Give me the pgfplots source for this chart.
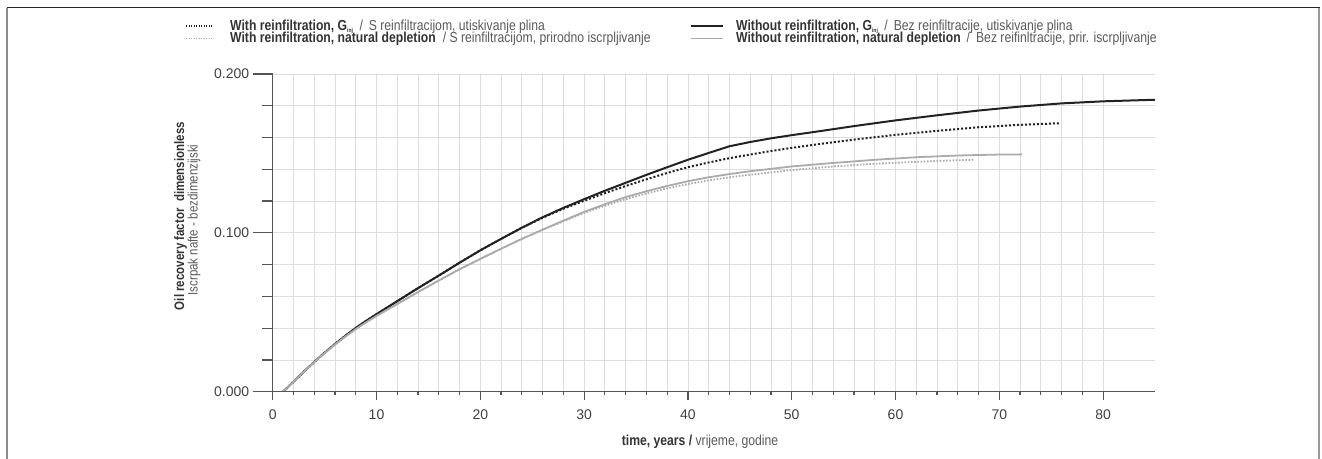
\documentclass[border=0pt]{standalone}
\usepackage{fontspec}
\setmainfont{Liberation Sans}
\newfontfamily\narrow{Liberation Sans}[FakeStretch=0.84]
\usepackage{pgfplots}
\pgfplotsset{compat=1.18}
\definecolor{gridc}{HTML}{DDDDDD}
\definecolor{axc}{HTML}{555555}
\definecolor{blk}{HTML}{222222}
\definecolor{gry}{HTML}{ABABAB}
\definecolor{txtb}{HTML}{333333}
\definecolor{txtr}{HTML}{5A5A5A}

\pgfplotstableread{
x y
1 0
2 0.0063
3 0.0126
4 0.0187
5 0.0245
6 0.0300
7 0.0352
8 0.0401
9 0.0446
10 0.0488
11 0.0529
12 0.0570
14 0.0652
16 0.0731
18 0.0812
20 0.0890
22 0.0962
24 0.1032
26 0.1098
28 0.1157
30 0.1212
32 0.1265
34 0.1315
36 0.1365
38 0.1413
40 0.1460
42 0.1503
44 0.1545
46 0.1572
48 0.1595
50 0.1615
53 0.1643
56 0.1672
60 0.1708
64 0.1740
68 0.1770
72 0.1795
76 0.1815
80 0.1828
85 0.1838
}\woGinj

\pgfplotstableread{
x y
1 0
2 0.0063
3 0.0126
4 0.0187
5 0.0245
6 0.0300
7 0.0352
8 0.0401
9 0.0446
10 0.0488
11 0.0529
12 0.0570
14 0.0652
16 0.0731
18 0.0812
20 0.0890
22 0.0962
24 0.1032
26 0.1095
28 0.1152
30 0.1202
32 0.1250
34 0.1295
36 0.1337
38 0.1377
40 0.1413
42 0.1443
44 0.1470
46 0.1493
48 0.1515
50 0.1535
53 0.1562
56 0.1587
60 0.1617
64 0.1642
68 0.1665
72 0.1680
75.8 0.1690
}\wGinj

\pgfplotstableread{
x y
1 0
2 0.0063
3 0.0126
4 0.0186
5 0.0243
6 0.0297
7 0.0347
8 0.0394
9 0.0437
10 0.0477
11 0.0515
12 0.0552
14 0.0627
16 0.0700
18 0.0771
20 0.0836
22 0.0900
24 0.0962
26 0.1020
28 0.1077
30 0.1132
32 0.1180
34 0.1225
36 0.1262
38 0.1295
40 0.1325
42 0.1350
44 0.1370
46 0.1388
48 0.1403
50 0.1418
54 0.1440
58 0.1460
62 0.1476
66 0.1487
70 0.1493
72.2 0.1494
}\woNat

\pgfplotstableread{
x y
1 0
2 0.0063
3 0.0126
4 0.0186
5 0.0243
6 0.0297
7 0.0347
8 0.0394
9 0.0437
10 0.0477
11 0.0515
12 0.0552
14 0.0627
16 0.0700
18 0.0771
20 0.0836
22 0.0900
24 0.0962
26 0.1020
28 0.1072
30 0.1125
32 0.1170
34 0.1212
36 0.1248
38 0.1280
40 0.1307
42 0.1330
44 0.1350
46 0.1366
48 0.1380
50 0.1395
54 0.1418
58 0.1435
62 0.1447
65 0.1455
67.5 0.1460
}\wNat

\begin{document}
\begin{tikzpicture}[x=1pt,y=1pt]
\useasboundingbox (0pt,0pt) rectangle (1322pt,-458pt);
% outer frame
\draw[line width=1.5pt, color=black!85] (6.5pt,-7.5pt) -- (1319.5pt,-7.5pt);
\draw[line width=2pt, color=black!45] (7pt,-7.5pt) -- (7pt,-460pt);
\draw[line width=1.5pt, color=black!40] (1319pt,-7.5pt) -- (1319pt,-460pt);

% main axis: data, grid, y ticks
\begin{axis}[
  at={(272.7pt,-391.7pt)}, anchor=south west,
  scale only axis, width=882.3pt, height=317.7pt,
  xmin=0, xmax=85, ymin=0, ymax=0.2,
  axis lines=left,
  axis line style={-, draw=axc, line width=1.2pt},
  xtick={0,10,...,80}, minor x tick num=4, xticklabels={},
  xtick style={draw=none},
  ytick={0,0.1,0.2}, minor y tick num=4,
  tick align=outside,
  major tick length=20pt, minor tick length=11pt,
  ytick style={draw=axc, line width=1.2pt},
  grid=both,
  major grid style={draw=gridc, line width=0.8pt},
  minor grid style={draw=gridc, line width=0.8pt},
  /pgf/number format/assume math mode=true,
  yticklabel style={/pgf/number format/fixed, /pgf/number format/fixed zerofill, /pgf/number format/precision=3, font=\fontsize{14}{14}\selectfont, text=black!75},
]
\addplot[blk, line width=2pt] table[x=x,y=y] {\woGinj};
\addplot[blk, line width=2pt, dash pattern=on 2pt off 2pt] table[x=x,y=y] {\wGinj};
\addplot[gry, line width=1.8pt, dash pattern=on 1.6pt off 1.6pt] table[x=x,y=y] {\wNat};
\addplot[gry, line width=1.8pt] table[x=x,y=y] {\woNat};
\end{axis}

% overlay axis: x ticks and labels
\begin{axis}[
  at={(272.7pt,-391.7pt)}, anchor=south west,
  scale only axis, width=882.3pt, height=317.7pt,
  xmin=0, xmax=85, ymin=0, ymax=0.2,
  axis x line=bottom, axis y line=none,
  axis line style={-, draw=axc, line width=1.2pt},
  xtick={0,10,...,80}, minor x tick num=4,
  tick align=outside,
  major tick length=8pt, minor tick length=3.5pt,
  xtick style={draw=axc, line width=1.2pt},
  /pgf/number format/assume math mode=true,
  xticklabel style={font=\fontsize{14}{14}\selectfont, text=black!75, yshift=-6pt},
]
\end{axis}

% axis titles
\node[anchor=base, inner sep=0, font=\narrow\fontsize{14.5}{15}\selectfont] at (700pt,-445pt)
  {\textcolor{txtb}{\bfseries time, years\ /}\textcolor{txtr}{\ vrijeme, godine}};
\node[anchor=base, rotate=90, inner sep=0, font=\narrow\bfseries\fontsize{13.7}{14}\selectfont, text=txtb] at (184pt,-216pt)
  {Oil recovery factor\ \ dimensionless};
\node[anchor=base, rotate=90, inner sep=0, font=\narrow\fontsize{13.7}{14}\selectfont, text=txtr] at (197.5pt,-220pt)
  {Iscrpak nafte - bezdimenzijski};

% legend
\draw[blk, line width=1.3pt, dash pattern=on 1.2pt off 1.3pt] (186pt,-26pt) -- (213pt,-26pt);
\draw[gry, line width=1.3pt, dash pattern=on 1.2pt off 1.3pt] (186pt,-38.5pt) -- (213pt,-38.5pt);
\draw[blk, line width=1.8pt] (691pt,-26pt) -- (723pt,-26pt);
\draw[gry, line width=1.8pt] (691pt,-38.5pt) -- (723pt,-38.5pt);
\begin{scope}[every node/.style={anchor=base west, inner sep=0, font=\narrow\fontsize{14.5}{15}\selectfont}]
\node at (230pt,-30pt) {\textcolor{txtb}{\bfseries With reinfiltration, G\textsubscript{\fontsize{6}{6}\selectfont inj}}\hspace{6pt}\textcolor{txtr}{/\hspace{6pt}S reinfiltracijom, utiskivanje plina}};
\node at (230pt,-42.5pt) {\textcolor{txtb}{\bfseries With reinfiltration, natural depletion}\hspace{7pt}\textcolor{txtr}{/ S reinfiltracijom, prirodno iscrpljivanje}};
\node at (736pt,-30pt) {\textcolor{txtb}{\bfseries Without reinfiltration, G\textsubscript{\fontsize{6}{6}\selectfont inj}}\hspace{6pt}\textcolor{txtr}{/\hspace{6pt}Bez reinfiltracije, utiskivanje plina}};
\node at (736pt,-42.5pt) {\textcolor{txtb}{\bfseries Without reinfiltration, natural depletion}\hspace{6pt}\textcolor{txtr}{/\hspace{6pt}Bez reifinltracije, prir. iscrpljivanje}};
\end{scope}
\end{tikzpicture}
\end{document}
